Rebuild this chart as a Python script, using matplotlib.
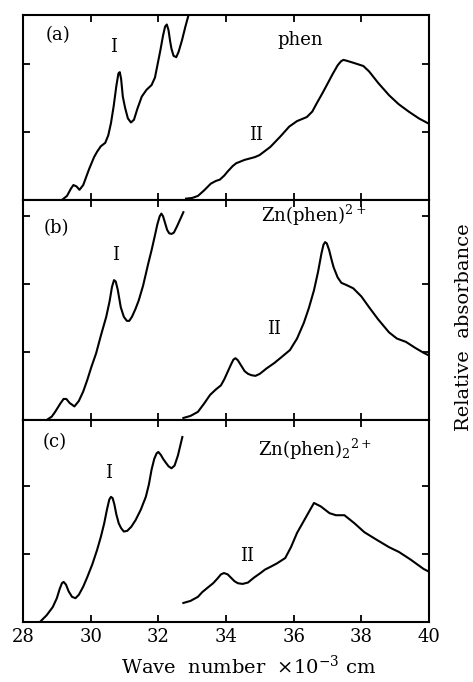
import matplotlib
matplotlib.use("Agg")
import matplotlib.pyplot as plt

plt.rcParams['font.family'] = ['DejaVu Serif']
plt.rcParams['mathtext.fontset'] = 'dejavuserif'

# wave number (x10^3 cm^-1) and relative absorbance
a1_x = [29.15, 29.3, 29.42, 29.49, 29.58, 29.67, 29.78, 29.95, 30.1, 30.19, 30.3, 30.43, 30.52, 30.6, 30.68, 30.76, 30.82, 30.86, 30.9, 30.95, 31.02, 31.1, 31.19, 31.28, 31.38, 31.51, 31.65, 31.8, 31.9, 31.98, 32.06, 32.14, 32.2, 32.25, 32.3, 32.35, 32.39, 32.45, 32.53, 32.6, 32.7, 32.8, 32.91]
a1_y = [0.0, 0.06, 0.17, 0.22, 0.2, 0.15, 0.22, 0.45, 0.63, 0.71, 0.79, 0.84, 0.95, 1.13, 1.38, 1.68, 1.86, 1.88, 1.78, 1.52, 1.35, 1.2, 1.14, 1.18, 1.34, 1.52, 1.62, 1.69, 1.8, 2.0, 2.2, 2.42, 2.55, 2.58, 2.5, 2.33, 2.22, 2.12, 2.1, 2.18, 2.35, 2.55, 2.75]
a2_x = [32.82, 33.0, 33.17, 33.35, 33.55, 33.7, 33.82, 33.95, 34.05, 34.2, 34.3, 34.4, 34.55, 34.7, 34.85, 34.99, 35.15, 35.31, 35.6, 35.87, 36.1, 36.39, 36.55, 36.68, 36.85, 36.98, 37.15, 37.3, 37.4, 37.47, 37.55, 37.75, 38.06, 38.23, 38.5, 38.82, 39.1, 39.4, 39.7, 40.0]
a2_y = [0.02, 0.03, 0.06, 0.14, 0.24, 0.28, 0.3, 0.36, 0.42, 0.5, 0.54, 0.56, 0.59, 0.61, 0.63, 0.66, 0.72, 0.78, 0.93, 1.08, 1.16, 1.22, 1.3, 1.42, 1.57, 1.69, 1.85, 1.98, 2.04, 2.06, 2.05, 2.02, 1.97, 1.89, 1.72, 1.54, 1.41, 1.3, 1.2, 1.12]

b1_x = [28.7, 28.85, 28.95, 29.1, 29.2, 29.28, 29.38, 29.52, 29.65, 29.78, 29.9, 30.02, 30.16, 30.3, 30.46, 30.56, 30.63, 30.69, 30.74, 30.8, 30.89, 30.98, 31.07, 31.14, 31.22, 31.32, 31.42, 31.55, 31.7, 31.8, 31.9, 31.97, 32.04, 32.09, 32.14, 32.2, 32.26, 32.32, 32.39, 32.46, 32.55, 32.65, 32.74]
b1_y = [0.0, 0.05, 0.12, 0.24, 0.31, 0.31, 0.25, 0.2, 0.28, 0.42, 0.59, 0.78, 0.98, 1.24, 1.52, 1.75, 1.96, 2.06, 2.04, 1.92, 1.66, 1.52, 1.46, 1.46, 1.52, 1.63, 1.76, 1.98, 2.3, 2.5, 2.72, 2.88, 3.0, 3.04, 3.0, 2.9, 2.8, 2.75, 2.74, 2.76, 2.85, 2.96, 3.06]
b2_x = [32.74, 32.95, 33.17, 33.35, 33.53, 33.7, 33.85, 33.95, 34.05, 34.15, 34.22, 34.28, 34.35, 34.45, 34.55, 34.65, 34.75, 34.87, 35.0, 35.2, 35.43, 35.65, 35.89, 36.1, 36.3, 36.45, 36.6, 36.72, 36.82, 36.88, 36.93, 36.98, 37.05, 37.12, 37.18, 37.3, 37.41, 37.55, 37.76, 38.0, 38.23, 38.5, 38.82, 39.05, 39.32, 39.6, 39.84, 40.0]
b2_y = [0.03, 0.06, 0.12, 0.24, 0.37, 0.45, 0.51, 0.6, 0.71, 0.82, 0.89, 0.91, 0.88, 0.8, 0.72, 0.68, 0.66, 0.65, 0.68, 0.76, 0.84, 0.93, 1.03, 1.2, 1.43, 1.65, 1.91, 2.18, 2.45, 2.58, 2.62, 2.6, 2.5, 2.36, 2.25, 2.1, 2.02, 1.99, 1.94, 1.82, 1.66, 1.48, 1.29, 1.2, 1.15, 1.06, 0.99, 0.95]

c1_x = [28.5, 28.7, 28.88, 29.0, 29.08, 29.15, 29.2, 29.27, 29.35, 29.45, 29.55, 29.65, 29.78, 29.9, 30.05, 30.19, 30.3, 30.4, 30.48, 30.55, 30.6, 30.65, 30.7, 30.76, 30.83, 30.9, 30.98, 31.08, 31.2, 31.33, 31.48, 31.63, 31.72, 31.8, 31.88, 31.95, 32.0, 32.07, 32.14, 32.21, 32.3, 32.39, 32.48, 32.58, 32.71]
c1_y = [0.0, 0.1, 0.22, 0.35, 0.48, 0.57, 0.59, 0.55, 0.45, 0.37, 0.35, 0.4, 0.52, 0.66, 0.85, 1.06, 1.25, 1.45, 1.65, 1.8, 1.84, 1.82, 1.73, 1.58, 1.45, 1.38, 1.33, 1.34, 1.4, 1.5, 1.65, 1.84, 2.02, 2.24, 2.4, 2.48, 2.5, 2.46, 2.4, 2.35, 2.29, 2.26, 2.3, 2.45, 2.72]
c2_x = [32.74, 32.95, 33.17, 33.3, 33.47, 33.62, 33.75, 33.85, 33.94, 34.05, 34.15, 34.25, 34.35, 34.49, 34.65, 34.82, 35.02, 35.15, 35.31, 35.5, 35.75, 35.92, 36.1, 36.35, 36.6, 36.8, 37.06, 37.25, 37.5, 37.8, 38.09, 38.45, 38.82, 39.11, 39.45, 39.84, 40.0]
c2_y = [0.28, 0.31, 0.37, 0.44, 0.51, 0.57, 0.64, 0.7, 0.72, 0.7, 0.65, 0.6, 0.57, 0.56, 0.58, 0.65, 0.72, 0.77, 0.81, 0.86, 0.94, 1.1, 1.31, 1.53, 1.75, 1.7, 1.6, 1.57, 1.57, 1.45, 1.32, 1.21, 1.1, 1.03, 0.92, 0.78, 0.74]

panels = [
    (a1_x, a1_y, a2_x, a2_y, 2.72, [1, 2], '(a)', 'phen',
     [(29.02, 2.43), (30.69, 2.25), (36.19, 2.35), (34.9, 0.96)]),
    (b1_x, b1_y, b2_x, b2_y, 3.24, [1, 2, 3], '(b)', 'Zn(phen)$^{2+}$',
     [(28.99, 2.82), (30.75, 2.43), (36.6, 3.01), (35.43, 1.34)]),
    (c1_x, c1_y, c2_x, c2_y, 2.97, [1, 2], '(c)', 'Zn(phen)$_2$$^{2+}$',
     [(28.94, 2.65), (30.54, 2.19), (36.63, 2.54), (34.61, 0.97)]),
]

fig = plt.figure(figsize=(4.73, 6.82), dpi=100)
left, right = 23 / 473, 429 / 473
tops = [15, 200, 420]
bots = [200, 420, 622]

for i, (x1, y1, x2, y2, ymax, yt, tag, name, pos) in enumerate(panels):
    ax = fig.add_axes([left, 1 - bots[i] / 682, right - left, (bots[i] - tops[i]) / 682])
    ax.plot(x1, y1, color='black', lw=1.5, solid_joinstyle='round')
    ax.plot(x2, y2, color='black', lw=1.5, solid_joinstyle='round')
    ax.set_xlim(28, 40)
    ax.set_ylim(0, ymax)
    ax.set_xticks([30, 32, 34, 36, 38])
    ax.set_yticks(yt)
    ax.tick_params(direction='in', top=True, right=True, length=5, width=1.3,
                   labelleft=False, labelsize=13)
    if i < 2:
        ax.tick_params(labelbottom=False)
    else:
        ax.set_xticks([28, 30, 32, 34, 36, 38, 40])
        ax.set_xticklabels(['28', '30', '32', '34', '36', '38', '40'])
        ax.tick_params(pad=4)
    for s in ax.spines.values():
        s.set_linewidth(1.5)
    ax.text(pos[0][0], pos[0][1], tag, fontsize=13, ha='center', va='center')
    ax.text(pos[1][0], pos[1][1], 'I', fontsize=13, ha='center', va='center')
    ax.text(pos[2][0], pos[2][1], name, fontsize=13, ha='center', va='center')
    ax.text(pos[3][0], pos[3][1], 'II', fontsize=13, ha='center', va='center')

fig.text(248 / 473, 1 - 666 / 682, 'Wave  number  $\\times$10$^{-3}$ cm',
         ha='center', va='center', fontsize=14)
fig.text(464 / 473, 1 - 327 / 682, 'Relative  absorbance', rotation=90,
         ha='center', va='center', fontsize=14)

fig.savefig('out.png', dpi=100)
